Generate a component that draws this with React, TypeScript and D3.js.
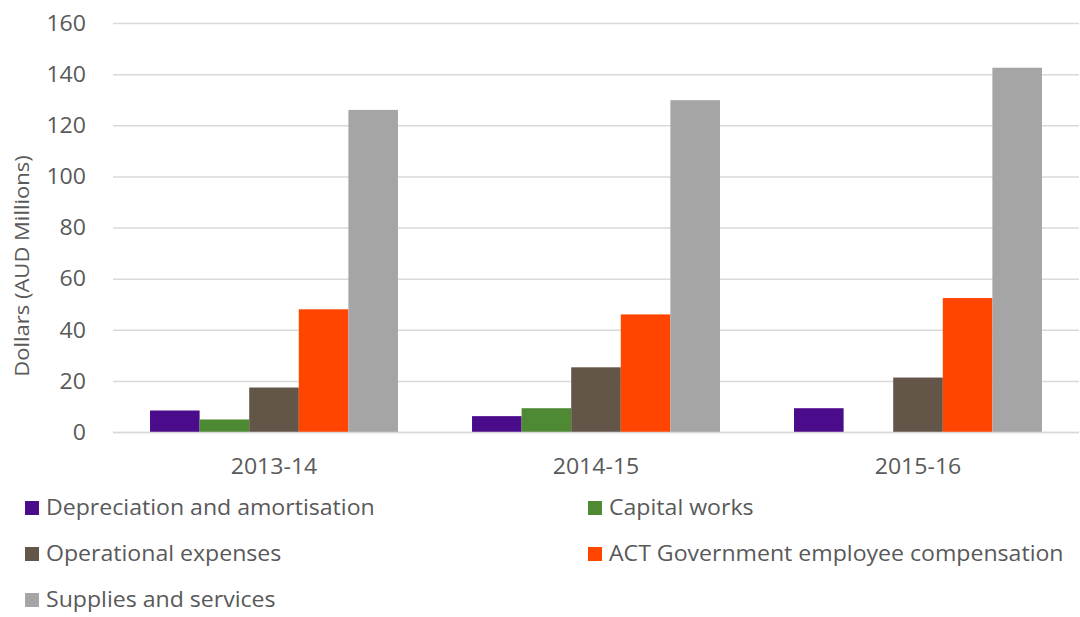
import React from "react";
import * as d3 from "d3";

const categories = ["2013-14", "2014-15", "2015-16"];
const seriesNames = [
  "Depreciation and amortisation",
  "Capital works",
  "Operational expenses",
  "ACT Government employee compensation",
  "Supplies and services",
];
const depreciation = [8.6, 6.4, 9.5];
const capitalWorks = [5.1, 9.5, 0];
const operational = [17.6, 25.5, 21.5];
const employeeComp = [48.2, 46.2, 52.6];
const supplies = [126.2, 130.0, 142.7];
const seriesColors = ["#4B0C8C", "#4E8A34", "#635548", "#FF4500", "#A5A5A5"];
const yTicks = [0, 20, 40, 60, 80, 100, 120, 140, 160];

const seriesValues = [depreciation, capitalWorks, operational, employeeComp, supplies];

export default function App() {
  const W = 1080, H = 617;
  const left = 113, right = 1079, top = 23.5, bottom = 432.5;
  const x = d3.scaleBand<string>().domain(categories).range([left, right]).paddingInner(0.23).paddingOuter(0.115);
  const xs = d3.scaleBand<string>().domain(seriesNames).range([0, x.bandwidth()]);
  const y = d3.scaleLinear().domain([0, 160]).range([bottom, top]);
  const font = "'Open Sans', sans-serif";
  const sx = 1.1;
  const legendPos = [
    [25, 508], [588, 508], [25, 554], [588, 554], [25, 600],
  ];
  return (
    <svg width={W} height={H} style={{ position: "absolute", left: 0, top: 0, background: "#fff" }}>
      {yTicks.map((t) => (
        <g key={t}>
          <line x1={left} x2={right} y1={y(t)} y2={y(t)} stroke="#d9d9d9" strokeWidth={1.5} />
          <text transform={`translate(86,${y(t)}) scale(${sx},1)`} dy="0.35em" textAnchor="end" fontFamily={font} fontSize={21} fill="#595959">{t}</text>
        </g>
      ))}
      {categories.map((c, ci) => (
        <g key={c} transform={`translate(${x(c)},0)`}>
          {seriesNames.map((s, si) => {
            const v = seriesValues[si][ci];
            if (!v) return null;
            return <rect key={s} x={xs(s)} y={y(v)} width={xs.bandwidth()} height={y(0) - y(v)} fill={seriesColors[si]} />;
          })}
        </g>
      ))}
      <line x1={left} x2={right} y1={y(0)} y2={y(0)} stroke="#d9d9d9" strokeWidth={1.5} />
      {categories.map((c) => (
        <text key={c} transform={`translate(${(x(c) as number) + x.bandwidth() / 2},467) scale(${sx},1)`} dy="0.35em" textAnchor="middle" fontFamily={font} fontSize={21} fill="#595959">{c}</text>
      ))}
      <text transform={`translate(22,266) rotate(-90) scale(${sx},1)`} textAnchor="middle" dy="0.35em" fontFamily={font} fontSize={20} fill="#595959">Dollars (AUD Millions)</text>
      {seriesNames.map((s, i) => (
        <g key={s} transform={`translate(${legendPos[i][0]},${legendPos[i][1]})`}>
          <rect x={0} y={-7} width={14} height={14} fill={seriesColors[i]} />
          <text transform={`translate(21,0) scale(${sx},1)`} dy="0.35em" fontFamily={font} fontSize={21} fill="#595959">{s}</text>
        </g>
      ))}
    </svg>
  );
}
